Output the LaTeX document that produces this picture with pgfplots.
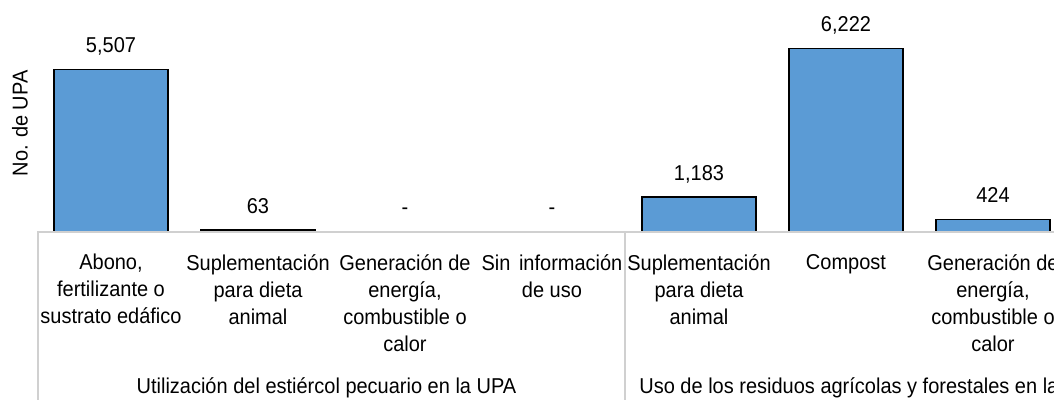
\documentclass[border=0pt]{standalone}
\usepackage{fontspec}
\setmainfont{Liberation Sans}[FakeStretch=0.93]
\usepackage{pgfplots}
\pgfplotsset{compat=1.18}
\definecolor{barblue}{HTML}{5B9BD5}
\definecolor{axisgray}{RGB}{208,208,208}
\newcommand{\lblfont}{\fontsize{10.75}{13.5}\selectfont}

\begin{document}
\begin{tikzpicture}
\begin{axis}[
  scale only axis,
  width=514.5pt, height=116pt,
  xmin=-0.5, xmax=6.5,
  ymin=0, ymax=7860,
  ybar, bar width=57pt, bar shift=0pt,
  axis x line*=bottom,
  axis y line*=left,
  x axis line style={draw=axisgray, line width=1pt},
  y axis line style={draw=none},
  ytick=\empty,
  xtick={0,...,6},
  major tick length=0pt,
  xticklabels={
    {Abono,\\fertilizante o\\sustrato edáfico},
    {Suplementación\\para dieta\\animal},
    {Generación de\\energía,\\combustible o\\calor},
    {Sin\hspace{1.5pt} información\\de uso},
    {Suplementación\\para dieta\\animal},
    {Compost},
    {Generación de\\energía,\\combustible o\\calor}},
  xticklabel style={font=\lblfont, align=center, anchor=north, inner sep=0pt, yshift=-11pt},
  ylabel={No. de UPA},
  ylabel style={font=\lblfont, at={(axis description cs:0,0.468)}, anchor=center, yshift=8.75pt},
  /pgf/number format/assume math mode=true,
  /pgf/number format/1000 sep={,},
  nodes near coords,
  every node near coord/.append style={font=\lblfont, text=black, anchor=base, inner sep=0pt, yshift=8.5pt},
  axis on top,
]
% categories with UPA counts
\addplot[fill=barblue, draw=black, line width=0.75pt]
  coordinates {(0,5507) (1,63) (4,1183) (5,6222) (6,424)};
% categories without reported use
\addplot[draw=none, fill=none, nodes near coords={-}]
  coordinates {(2,0) (3,0)};
\coordinate (g0) at (axis cs:-0.5,0);
\coordinate (g1) at (axis cs:3.5,0);
\coordinate (c1) at (axis cs:1.5,0);
\end{axis}
% group separators and group captions
\draw[axisgray, line width=1pt] (g0) -- ++(0,-84pt);
\draw[axisgray, line width=1pt] (g1) -- ++(0,-84pt);
\node[font=\lblfont, anchor=base, inner sep=0pt] at ([xshift=-2.5pt, yshift=-81pt]c1)
  {Utilización del estiércol pecuario en la UPA};
\node[font=\lblfont, anchor=base west, inner sep=0pt] at ([xshift=6.75pt, yshift=-81pt]g1)
  {Uso de los residuos agrícolas y forestales en la UPA};
\pgfresetboundingbox
\useasboundingbox (-18.75pt,-84pt) rectangle (508.25pt,116pt);
\end{tikzpicture}
\end{document}
